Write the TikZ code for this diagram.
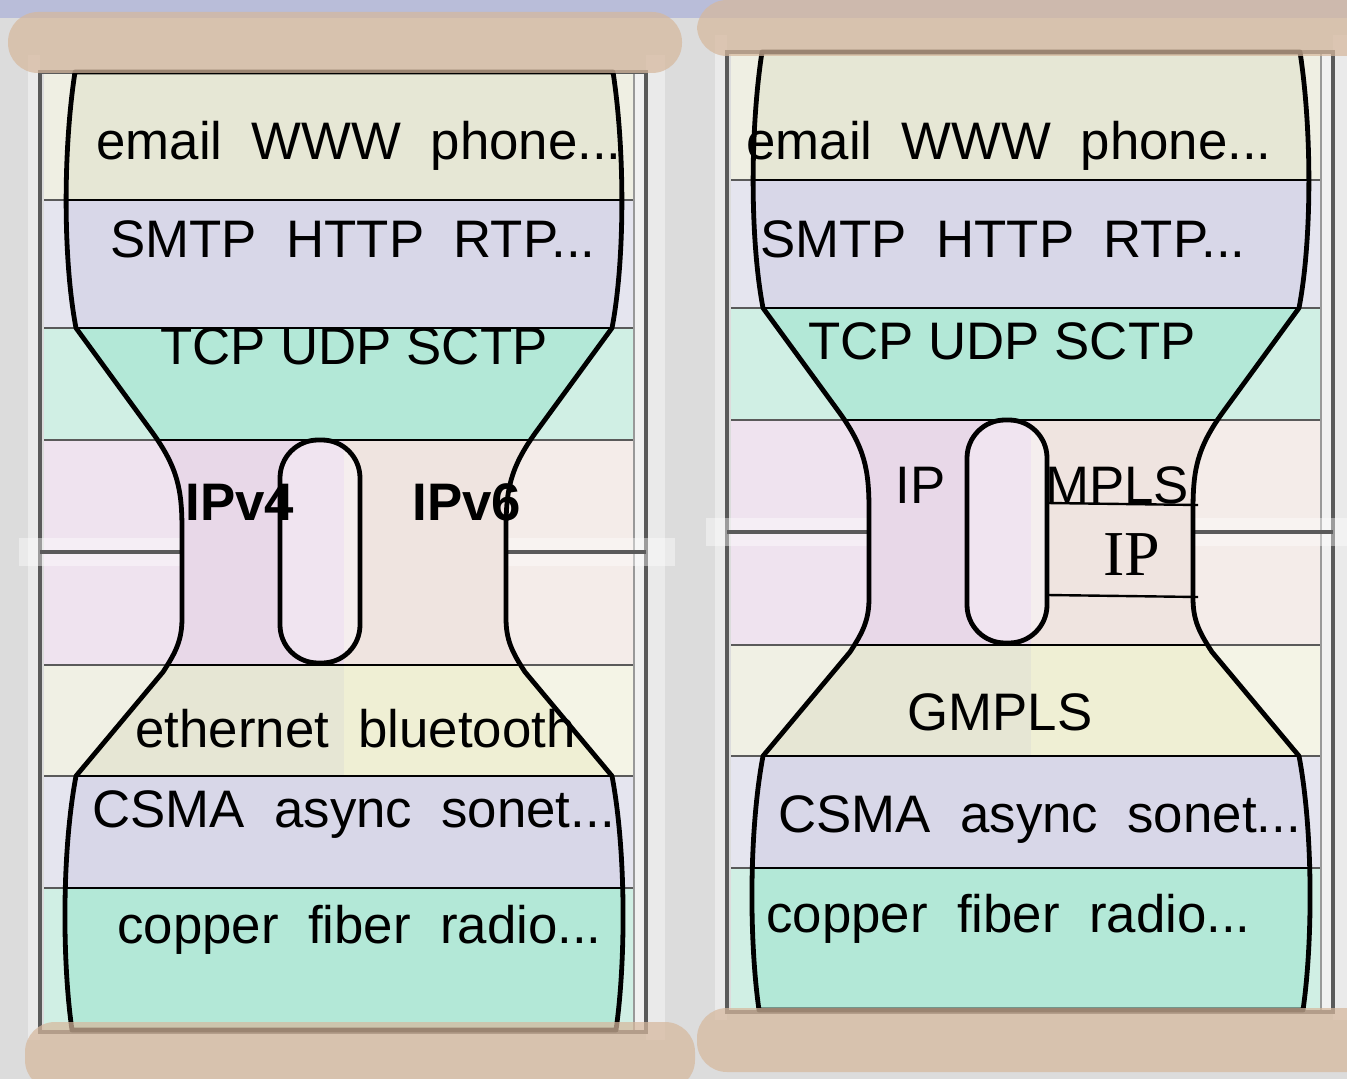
\documentclass[tikz,border=0pt]{standalone}
\usepackage{fontspec}
\setmainfont{Liberation Sans}
\newfontfamily\serifIP{Liberation Serif}
\definecolor{bg}{HTML}{DCDCDC}
\definecolor{lightcol}{HTML}{EAEAEA}
\definecolor{topstrip}{HTML}{B9BDD9}
\definecolor{wood}{HTML}{D6B89D}
\definecolor{appO}{HTML}{EFEFE3}
\definecolor{appI}{HTML}{E6E7D5}
\definecolor{smtpO}{HTML}{E5E5EF}
\definecolor{smtpI}{HTML}{D8D7E8}
\definecolor{tcpO}{HTML}{D0EFE4}
\definecolor{tcpI}{HTML}{B3E8D7}
\definecolor{ipOL}{HTML}{EFE3EF}
\definecolor{ipOR}{HTML}{F4ECE9}
\definecolor{ipIL}{HTML}{E8D8E8}
\definecolor{ipIR}{HTML}{EFE4E0}
\definecolor{linkOL}{HTML}{F0F0E4}
\definecolor{linkOR}{HTML}{F4F4E6}
\definecolor{linkIL}{HTML}{E6E6D4}
\definecolor{linkIR}{HTML}{EFEFD4}
\definecolor{pillL}{HTML}{F0E4F0}
\definecolor{pillR}{HTML}{F5EEEE}
\definecolor{framegray}{HTML}{5A5A5A}
\newcommand\hgpath{(75,72) .. controls (63,150) and (63,260) .. (76,328) -- (152,432) .. controls (178,468) and (182,490) .. (182,530) -- (182,618) .. controls (182,640) and (176,652) .. (163,672) -- (76,776) .. controls (62,850) and (62,960) .. (72,1030) -- (616,1030) .. controls (626,960) and (626,850) .. (612,776) -- (525,672) .. controls (512,652) and (506,640) .. (506,618) -- (506,530) .. controls (506,490) and (510,468) .. (536,432) -- (612,328) .. controls (625,260) and (625,150) .. (613,72) -- cycle}
\newcommand\pillpath{(280,440) rectangle (360,663)}
\tikzset{
  lbl/.style={font=\fontsize{26.4}{30}\selectfont, anchor=base west, inner sep=0pt},
  layerline/.style={draw=framegray, line width=1.3pt},
  innerline/.style={draw=black, line width=1.4pt},
  framebox/.style={draw=framegray, line width=2.3pt},
  hgline/.style={draw=black, line width=2.4pt, line join=round},
  pillbox/.style={draw=black, line width=2.4pt, rounded corners=19pt},
  woodbar/.style={fill=wood, fill opacity=0.72, rounded corners=15pt},
  joinstrip/.style={fill=white, fill opacity=0.4},
}
\newcommand\stackdiagram{%
  \fill[lightcol] (28,55) rectangle (40,1040);
  \fill[lightcol] (646,55) rectangle (665,1040);
  \fill[appO] (44,72) rectangle (634,200);
  \fill[smtpO] (44,200) rectangle (634,328);
  \fill[tcpO] (44,328) rectangle (634,440);
  \fill[ipOL] (44,440) rectangle (344,665);
  \fill[ipOR] (344,440) rectangle (634,665);
  \fill[linkOL] (44,665) rectangle (344,776);
  \fill[linkOR] (344,665) rectangle (634,776);
  \fill[smtpO] (44,776) rectangle (634,888);
  \fill[tcpO] (44,888) rectangle (634,1030);
  \begin{scope}
    \clip \hgpath;
    \fill[appI] (44,72) rectangle (634,200);
    \fill[smtpI] (44,200) rectangle (634,328);
    \fill[tcpI] (44,328) rectangle (634,440);
    \fill[ipIL] (44,440) rectangle (344,665);
    \fill[ipIR] (344,440) rectangle (634,665);
    \fill[linkIL] (44,665) rectangle (344,776);
    \fill[linkIR] (344,665) rectangle (634,776);
    \fill[smtpI] (44,776) rectangle (634,888);
    \fill[tcpI] (44,888) rectangle (634,1030);
  \end{scope}
  \foreach \yy in {200,328,440,665,776,888} {\draw[layerline] (44,\yy) -- (634,\yy);}
  \begin{scope}
    \clip \hgpath;
    \foreach \yy in {200,328,440,665,776,888} {\draw[innerline] (44,\yy) -- (634,\yy);}
  \end{scope}
  \fill[white, fill opacity=0.6] (634,72) rectangle (646,1030);
  \draw[draw=gray!80, line width=0.8pt] (634,72) -- (634,1030);
  \draw[framebox] (40,72) rectangle (646,1032);
  \fill[joinstrip] (19,538) rectangle (182,566);
  \fill[joinstrip] (506,538) rectangle (675,566);
  \draw[framebox] (40,552) -- (182,552);
  \draw[framebox] (506,552) -- (646,552);
  \draw[hgline] \hgpath;
  \begin{scope}
    \clip[rounded corners=19pt] \pillpath;
    \fill[pillL] (280,440) rectangle (344,663);
    \fill[pillR] (344,440) rectangle (360,663);
  \end{scope}
  \draw[pillbox] \pillpath;
}
\begin{document}
\begin{tikzpicture}[x=0.5pt, y=-0.5pt]
\clip (0,0) rectangle (1347,1079);
\useasboundingbox (0,0) rectangle (1347,1079);
\fill[bg] (0,0) rectangle (1347,1079);
\fill[topstrip] (0,0) rectangle (1347,18);

% left stack
\begin{scope}
  \stackdiagram
\end{scope}
% right stack (same geometry, shifted)
\begin{scope}[shift={(687,-20)}]
  \stackdiagram
\end{scope}

% MPLS box lines
\coordinate (mplsTL) at (1047,503);
\coordinate (mplsTR) at (1198,505);
\coordinate (mplsBL) at (1047,595);
\coordinate (mplsBR) at (1198,597);
\draw[black, line width=1.2pt] (mplsTL) -- (mplsTR);
\draw[black, line width=1.2pt] (mplsBL) -- (mplsBR);

% left labels
\node[lbl] (lapp)  at (96,160)  {email\ \ WWW\ \ phone...};
\node[lbl] (ltr)   at (110,258) {SMTP\ \ HTTP\ \ RTP...};
\node[lbl] (ltcp)  at (160,365) {TCP UDP SCTP};
\node[lbl, font=\fontsize{26.4}{30}\selectfont\bfseries] (lv4) at (185,520) {IPv4};
\node[lbl, font=\fontsize{26.4}{30}\selectfont\bfseries] (lv6) at (412,520) {IPv6};
\node[lbl] (llink) at (135,747) {ethernet\ \ bluetooth};
\node[lbl] (lmac)  at (92,827)  {CSMA\ \ async\ \ sonet...};
\node[lbl] (lphy)  at (117,943) {copper\ \ fiber\ \ radio...};

% right labels
\node[lbl] (rapp)  at (746,160) {email\ \ WWW\ \ phone...};
\node[lbl] (rtr)   at (760,258) {SMTP\ \ HTTP\ \ RTP...};
\node[lbl] (rtcp)  at (808,360) {TCP UDP SCTP};
\node[lbl] (rip)   at (895,503) {IP};
\node[lbl] (rmpls) at (1045,503) {MPLS};
\node[lbl, font=\fontsize{32}{36}\selectfont\serifIP] (rip2) at (1103,575) {IP};
\node[lbl] (rgm)   at (907,730) {GMPLS};
\node[lbl] (rmac)  at (778,832) {CSMA\ \ async\ \ sonet...};
\node[lbl] (rphy)  at (766,932) {copper\ \ fiber\ \ radio...};

% wooden bars
\fill[woodbar] (8,12) rectangle (682,73);
\fill[woodbar] (697,0) rectangle (1400,56);
\fill[woodbar] (25,1022) rectangle (695,1090);
\fill[woodbar] (697,1008) rectangle (1400,1072);
\end{tikzpicture}
\end{document}
